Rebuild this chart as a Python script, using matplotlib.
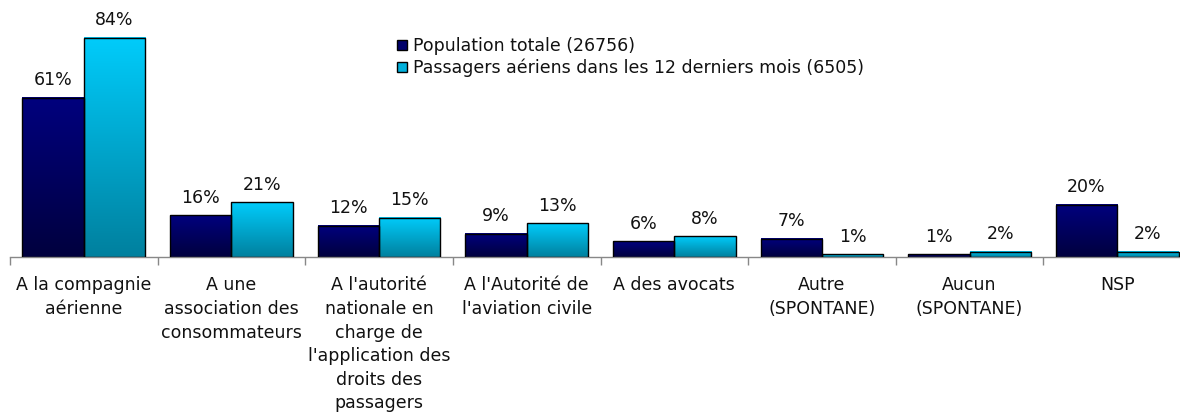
import numpy as np
import matplotlib
matplotlib.use("Agg")
import matplotlib.pyplot as plt
from matplotlib.colors import LinearSegmentedColormap
from matplotlib.patches import Patch

categories = [
    "A la compagnie\naérienne",
    "A une\nassociation des\nconsommateurs",
    "A l'autorité\nnationale en\ncharge de\nl'application des\ndroits des\npassagers",
    "A l'Autorité de\nl'aviation civile",
    "A des avocats",
    "Autre\n(SPONTANE)",
    "Aucun\n(SPONTANE)",
    "NSP",
]
population_totale = [61, 16, 12, 9, 6, 7, 1, 20]
passagers_aeriens = [84, 21, 15, 13, 8, 1, 2, 2]
series_labels = [
    "Population totale (26756)",
    "Passagers aériens dans les 12 derniers mois (6505)",
]

# top -> bottom colours of each bar's vertical gradient
navy_grad = LinearSegmentedColormap.from_list("navy", ["#00007e", "#00003e"])
cyan_grad = LinearSegmentedColormap.from_list("cyan", ["#00ccfb", "#00809e"])

plt.rcParams["font.family"] = ["DejaVu Sans"]
text_color = "#111111"
fs = 12.5

W, H, DPI = 1180, 412, 100
fig = plt.figure(figsize=(W / DPI, H / DPI), dpi=DPI)
# axes spans x = 10 .. 1191 px, baseline at y = 257 px
ax = fig.add_axes([10 / W, (H - 257) / H, 1181 / W, 235 / H])

n = len(categories)
x = np.arange(n)
bw = 0.416

# row 0 (value 0 -> light colour) is drawn at the top of each bar
grad = np.linspace(0, 1, 256).reshape(-1, 1)


def gradient_bar(xc, h, cmap):
    x0, x1 = xc - bw / 2, xc + bw / 2
    ax.imshow(grad, cmap=cmap, extent=(x0, x1, 0, h), aspect="auto",
              origin="upper", vmin=0, vmax=1, zorder=2, interpolation="bilinear")
    ax.bar(xc, h, width=bw, facecolor="none", edgecolor="black",
           linewidth=1.0, zorder=3)
    ax.annotate(f"{h}%", (xc, h), xytext=(0, 9), textcoords="offset points",
                ha="center", va="baseline", fontsize=fs, color=text_color,
                annotation_clip=False)


for i in range(n):
    gradient_bar(x[i] - bw / 2, population_totale[i], navy_grad)
    gradient_bar(x[i] + bw / 2, passagers_aeriens[i], cyan_grad)

ax.set_xlim(-0.5, n - 0.5)
ax.set_ylim(0, 90)

for s in ["top", "right", "left"]:
    ax.spines[s].set_visible(False)
ax.spines["bottom"].set_color("#888888")
ax.spines["bottom"].set_linewidth(1.0)
ax.set_yticks([])

ax.set_xticks(np.arange(n + 1) - 0.5)
ax.set_xticklabels([])
ax.tick_params(axis="x", which="major", length=6, color="#888888", width=1.0)
ax.set_xticks(x, minor=True)
ax.set_xticklabels(categories, minor=True, fontsize=fs, color=text_color,
                   linespacing=1.4, va="top")
ax.tick_params(axis="x", which="minor", length=0, pad=14)

handles = [
    Patch(facecolor="#00006a", edgecolor="black", linewidth=1.0),
    Patch(facecolor="#00b0dc", edgecolor="black", linewidth=1.0),
]
fig.legend(handles, series_labels, loc="upper left",
           bbox_to_anchor=(397 / W, 1 - 37 / H), frameon=False, fontsize=fs,
           handlelength=0.55, handleheight=0.55, handletextpad=0.35,
           labelspacing=0.2, borderaxespad=0, borderpad=0,
           labelcolor=text_color)

fig.savefig("out.png", dpi=DPI)
